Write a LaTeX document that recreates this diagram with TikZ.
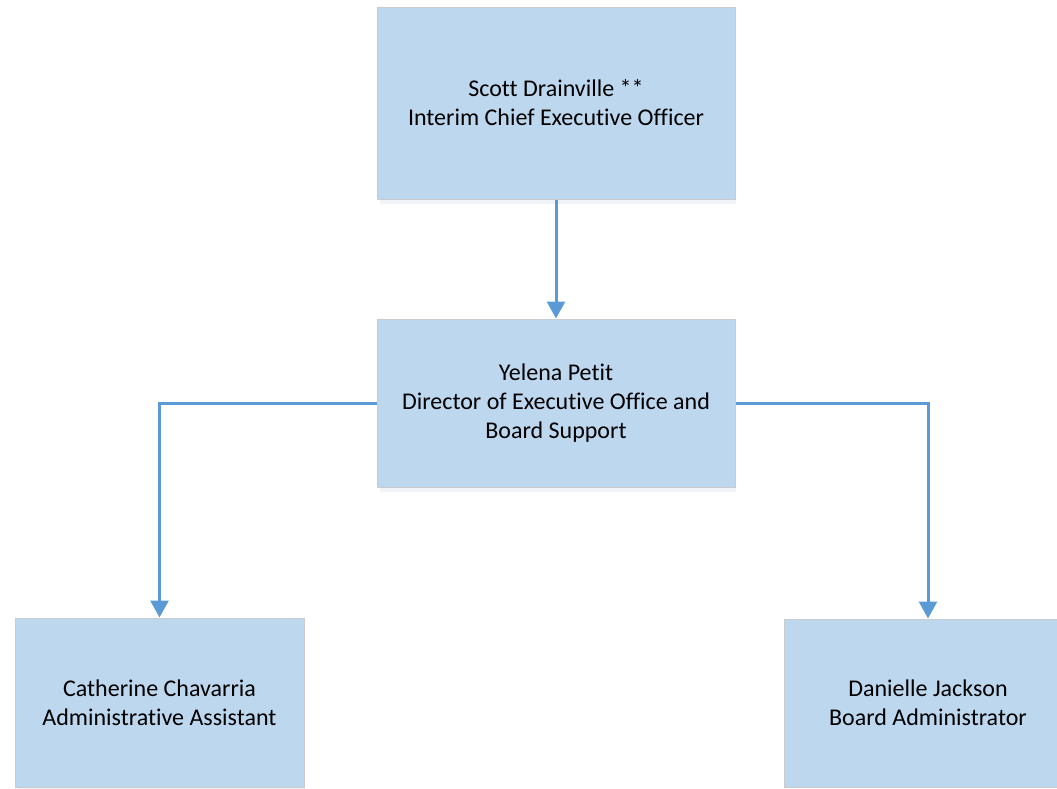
\documentclass[tikz,border=0pt]{standalone}
\usepackage{fontspec}
\setmainfont[Ligatures=CommonOff]{Carlito}
\usetikzlibrary{arrows.meta}
\definecolor{boxfill}{HTML}{BDD7EE}
\definecolor{boxline}{HTML}{C8CCD0}
\definecolor{conn}{HTML}{5B9BD5}
\definecolor{shade}{HTML}{F0F4F8}
\begin{document}
\begin{tikzpicture}[x=1pt,y=-1pt,
  orgbox/.style={draw=boxline, line width=1pt, fill=boxfill, align=center,
    font=\fontsize{24}{29}\selectfont, inner sep=0pt},
  shadowbox/.style={fill=shade, draw=none},
  link/.style={draw=conn, line width=3pt, -{Triangle[width=18pt,length=17pt]}}]
\useasboundingbox (0,0) rectangle (1057,788);
\clip (0,0) rectangle (1057,788);
% soft shadows below the boxes
\fill[shadowbox] (380,199.5) rectangle (736,204);
\fill[shadowbox] (380,487.5) rectangle (736,492);
\fill[shadowbox] (18,787.5) rectangle (305,792);
\node[orgbox, minimum width=358pt, minimum height=192pt] (ceo) at (556,103)
  {Scott Drainville **\\Interim Chief Executive Officer};
\node[orgbox, minimum width=358pt, minimum height=168pt] (dir) at (556,403)
  {Yelena Petit\\Director of Executive Office and\\Board Support};
\node[orgbox, minimum width=289pt, minimum height=169pt] (aa) at (159.5,702.5)
  {Catherine Chavarria\\Administrative Assistant};
\node[orgbox, minimum width=288pt, minimum height=168pt] (ba) at (928,703)
  {Danielle Jackson\\Board Administrator};
\draw[link] (ceo.south) -- (dir.north);
\draw[link] (dir.west) -| (aa.north);
\draw[link] (dir.east) -| (ba.north);
\end{tikzpicture}
\end{document}
